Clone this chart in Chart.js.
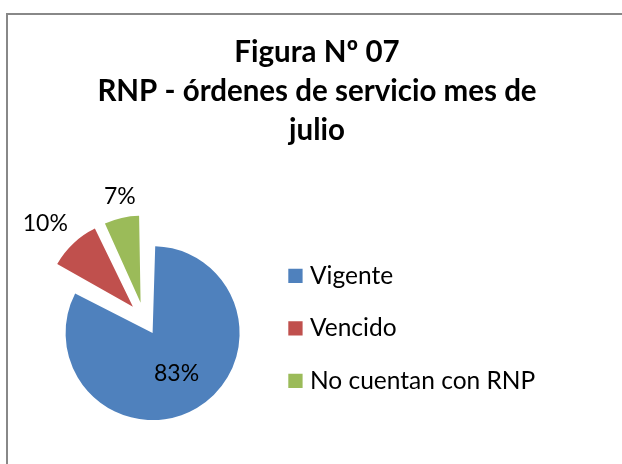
<!DOCTYPE html>
<html>
<head>
<meta charset="utf-8">
<script src="https://cdn.jsdelivr.net/npm/chart.js@4.4.1/dist/chart.umd.min.js"></script>
<style>
  html, body { margin: 0; padding: 0; background: #ffffff; overflow: hidden; width: 622px; height: 464px; }
  #frame { position: absolute; left: 6px; top: 13px; width: 700px; height: 600px;
           border-left: 2px solid #888888; border-top: 2px solid #888888; }
  #wrap { position: absolute; left: 0; top: 0; width: 622px; height: 464px; }
</style>
</head>
<body>
<div id="frame"></div>
<div id="wrap"><canvas id="chart"></canvas></div>
<script>
// ---- data ----
const categories = ['Vigente', 'Vencido', 'No cuentan con RNP'];
const percentages = [83, 10, 7];
const sliceColors = ['#4F81BD', '#C0504D', '#9BBB59'];
const titleLines = ['Figura Nº 07', 'RNP - órdenes de servicio mes de', 'julio'];

// ---- style constants ----
const FONT = 'Lato';
const PIE_RADIUS = 87;
const EXPLODE = 66;          // Chart.js translates arcs by offset/4
const LABEL_SIZE = 23;
const LEGEND_SIZE = 24.5;
const LEGEND_PAD = 28;
const LEGEND_BOX = 4.6;
const LEGEND_BORDER = 9.7;

// layout targets
const PAD_LEFT = 23.25, PAD_RIGHT = 11.25, PAD_BOTTOM = 2;
const LEGEND_LEFT = 265.15;

// width needed on the right of the legend so the title stays centred
const meas = document.createElement('canvas').getContext('2d');
meas.font = LEGEND_SIZE + 'px ' + FONT;
const textW = Math.max(...categories.map(c => meas.measureText(c).width));
const legendW = LEGEND_PAD + LEGEND_BOX + LEGEND_SIZE / 2 + textW + 10;
const spacerW = Math.max(622 - PAD_RIGHT - LEGEND_LEFT - legendW, 10);

// keep exploded slices at the same radius as the main slice
const equalRadius = {
  id: 'equalRadius',
  beforeDatasetsDraw(chart) {
    const meta = chart.getDatasetMeta(0);
    const R = meta.controller.outerRadius;
    meta.data.forEach(arc => {
      const shift = (arc.options.offset || 0) / 4;
      const fix = 1 - Math.sin(Math.min(Math.PI, arc.circumference || 0));
      arc.outerRadius = R - shift * fix;
    });
  }
};

// percentage labels
const pctLabels = {
  id: 'pctLabels',
  afterDatasetsDraw(chart) {
    const meta = chart.getDatasetMeta(0);
    const R = meta.controller.outerRadius;
    const ctx = chart.ctx;
    ctx.save();
    ctx.font = LABEL_SIZE + 'px ' + FONT;
    ctx.fillStyle = '#000000';
    ctx.textAlign = 'center';
    ctx.textBaseline = 'middle';
    const f = t => Math.sign(t) * Math.min(Math.max((Math.abs(t) - 0.3) / 0.3, 0), 1);
    meta.data.forEach((arc, i) => {
      const mid = (arc.startAngle + arc.endAngle) / 2;
      const dx = Math.cos(mid), dy = Math.sin(mid);
      const shift = (arc.options.offset || 0) / 4;
      const cx = arc.x + dx * shift, cy = arc.y + dy * shift;
      const text = percentages[i] + '%';
      let x, y;
      if (percentages[i] > 50) {
        x = cx + dx * R * 0.54;
        y = cy + dy * R * 0.54;
      } else {
        const hw = ctx.measureText(text).width / 2;
        const hh = LABEL_SIZE * 0.6;
        const px = cx + dx * (R + 8), py = cy + dy * (R + 8);
        x = px + hw * f(dx);
        y = py + hh * f(dy);
      }
      ctx.fillText(text, x, y);
    });
    ctx.restore();
  }
};

const ctx = document.getElementById('chart');
new Chart(ctx, {
  type: 'pie',
  data: {
    labels: categories,
    datasets: [{
      data: percentages,
      backgroundColor: sliceColors,
      borderWidth: 0,
      offset: [EXPLODE, EXPLODE, EXPLODE],
      hoverOffset: 0,
      radius: PIE_RADIUS
    }]
  },
  options: {
    responsive: true,
    maintainAspectRatio: false,
    animation: false,
    events: [],
    layout: { padding: { left: PAD_LEFT, right: PAD_RIGHT, top: 0, bottom: PAD_BOTTOM } },
    plugins: {
      tooltip: { enabled: false },
      title: {
        display: true,
        text: titleLines,
        color: '#000000',
        font: { family: FONT, weight: 'bold', size: 29.5, lineHeight: 39 / 29.5 },
        padding: { top: 33, bottom: 25.8 }
      },
      subtitle: {
        display: true,
        position: 'right',
        text: '',
        font: { size: 10, lineHeight: 1 },
        padding: { top: (spacerW - 10) / 2, bottom: (spacerW - 10) / 2 }
      },
      legend: {
        display: true,
        position: 'right',
        align: 'center',
        fullSize: false,
        maxWidth: 500,
        title: { display: true, text: '', font: { size: 10, lineHeight: 1 }, padding: { top: 9, bottom: 0 } },
        labels: {
          color: '#000000',
          font: { family: FONT, size: LEGEND_SIZE },
          padding: LEGEND_PAD,
          boxWidth: LEGEND_BOX,
          boxHeight: LEGEND_BOX,
          generateLabels(chart) {
            const base = Chart.overrides.pie.plugins.legend.labels.generateLabels(chart);
            return base.map(item => Object.assign({}, item, {
              strokeStyle: item.fillStyle,
              lineWidth: LEGEND_BORDER,
              lineJoin: 'miter'
            }));
          }
        }
      }
    }
  },
  plugins: [equalRadius, pctLabels]
});
</script>
</body>
</html>
